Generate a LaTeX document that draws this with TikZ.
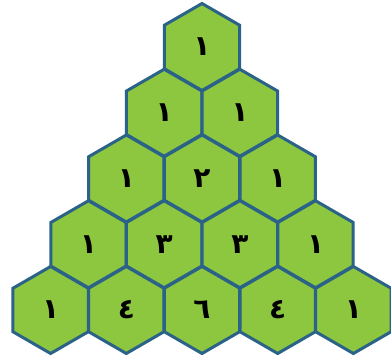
\documentclass[tikz,border=0pt]{standalone}
\usepackage{fontspec}
\newfontfamily\arabicfont[Script=Arabic]{DejaVu Sans}
\TeXXeTstate=1
\usetikzlibrary{shapes.geometric}
\definecolor{cellgreen}{HTML}{8DC63F}
\definecolor{cellblue}{HTML}{2B6287}

\begin{document}
\begin{tikzpicture}[x=1pt,y=1pt,
  cell/.style={regular polygon, regular polygon sides=6, shape border rotate=30,
    minimum size=87pt, inner sep=0pt, draw=cellblue, line width=3pt, fill=cellgreen,
    font=\arabicfont\bfseries\fontsize{28}{28}\selectfont}]
\useasboundingbox (0,0) rectangle (391,364);
% row 1
\node[cell] (r1c1) at (202,317) {\beginR ١\endR};
% row 2
\node[cell] (r2c1) at (164.15,251.25) {\beginR ١\endR};
\node[cell] (r2c2) at (239.85,251.25) {\beginR ١\endR};
% row 3
\node[cell] (r3c1) at (126.3,185.5) {\beginR ١\endR};
\node[cell] (r3c2) at (202,185.5) {\beginR ٢\endR};
\node[cell] (r3c3) at (277.7,185.5) {\beginR ١\endR};
% row 4
\node[cell] (r4c1) at (88.45,119.75) {\beginR ١\endR};
\node[cell] (r4c2) at (164.15,119.75) {\beginR ٣\endR};
\node[cell] (r4c3) at (239.85,119.75) {\beginR ٣\endR};
\node[cell] (r4c4) at (315.55,119.75) {\beginR ١\endR};
% row 5
\node[cell] (r5c1) at (50.6,54) {\beginR ١\endR};
\node[cell] (r5c2) at (126.3,54) {\beginR ٤\endR};
\node[cell] (r5c3) at (202,54) {\beginR ٦\endR};
\node[cell] (r5c4) at (277.7,54) {\beginR ٤\endR};
\node[cell] (r5c5) at (353.4,54) {\beginR ١\endR};
\end{tikzpicture}
\end{document}
